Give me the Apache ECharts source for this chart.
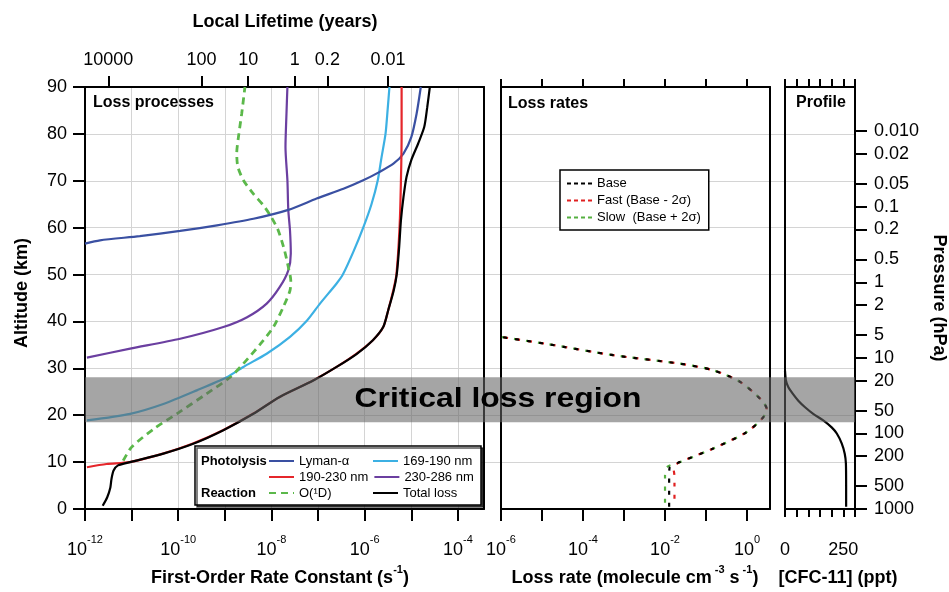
<!DOCTYPE html>
<html><head><meta charset="utf-8">
<script src="https://cdn.jsdelivr.net/npm/echarts@6/dist/echarts.min.js"></script>
<style>html,body{margin:0;padding:0;background:#fff}#c{width:949px;height:592px}</style>
</head><body><div id="c"></div>
<script>
// ---------------- DATA ----------------
// Left panel: first-order rate constants (s^-1) vs altitude (km)
const lymanAlt = [56.6, 57.3, 58.2, 59.3, 60.5, 61.9, 63.8, 66.2, 68.3, 70.1, 71.9, 73.7, 75.8, 79.3, 84.3, 90.0];
const lymanK   = [1.0e-12, 2.1e-12, 1.5e-11, 1.1e-10, 6.8e-10, 4.1e-9, 2.3e-8, 9.3e-8, 3.5e-7, 9.3e-7, 2.1e-6, 4.2e-6, 6.8e-6, 1.0e-5, 1.3e-5, 1.6e-5];

const band190Alt = [8.9, 9.6, 10.0, 11.8, 13.9, 16.8, 20.3, 23.9, 27.4, 30.3, 33.1, 36.0, 38.8, 42.4, 46.6, 50.0, 60.0, 70.0, 80.0, 90.0];
const band190K   = [1.1e-12, 2.9e-12, 9.1e-12, 4.7e-11, 2.0e-10, 9.1e-10, 4.0e-9, 1.5e-8, 7.8e-8, 2.5e-7, 6.6e-7, 1.5e-6, 2.5e-6, 3.2e-6, 4.1e-6, 4.8e-6, 5.6e-6, 6.0e-6, 6.2e-6, 6.2e-6];

const band169Alt = [18.9, 20.3, 22.4, 25.3, 28.1, 30.3, 33.1, 36.7, 40.2, 43.8, 48.1, 50.0, 55.0, 60.0, 65.0, 70.0, 75.0, 80.0, 85.0, 90.0];
const band169K   = [1.1e-12, 9.3e-12, 4.8e-11, 2.5e-10, 1.1e-9, 2.5e-9, 7.9e-9, 2.5e-8, 5.8e-8, 1.1e-7, 2.5e-7, 3.4e-7, 5.8e-7, 9.3e-7, 1.4e-6, 1.9e-6, 2.3e-6, 2.8e-6, 3.1e-6, 3.4e-6];

const band230Alt = [32.3, 34.2, 36.3, 38.8, 40.9, 43.8, 47.3, 50.9, 54.5, 59.4, 63.7, 70.1, 77.2, 84.3, 90.0];
const band230K   = [1.1e-12, 9.3e-12, 1.1e-10, 9.3e-10, 3.0e-9, 7.9e-9, 1.5e-8, 2.3e-8, 2.6e-8, 2.5e-8, 2.3e-8, 2.2e-8, 2.0e-8, 2.1e-8, 2.2e-8];

const o1dAlt = [10.3, 13.2, 17.1, 20.3, 24.6, 28.1, 31.0, 35.2, 38.8, 43.1, 46.6, 48.7, 51.6, 55.2, 59.4, 62.2, 64.7, 67.2, 70.1, 73.0, 75.9, 80.0, 84.3, 90.0];
const o1dK   = [6.6e-12, 1.0e-11, 3.0e-11, 9.3e-11, 4.1e-10, 1.3e-9, 2.5e-9, 5.8e-9, 1.1e-8, 1.8e-8, 2.5e-8, 2.6e-8, 2.3e-8, 1.9e-8, 1.4e-8, 1.0e-8, 6.8e-9, 4.1e-9, 2.5e-9, 1.9e-9, 1.8e-9, 2.0e-9, 2.3e-9, 2.7e-9];

const totalAlt = [0.7, 2.5, 4.6, 6.4, 8.2, 9.3, 10.0, 11.8, 13.9, 16.8, 20.3, 23.9, 27.4, 30.3, 33.1, 36.0, 38.8, 42.4, 46.6, 50.2, 55.9, 61.6, 66.5, 70.8, 74.4, 77.9, 81.5, 85.7, 90.0];
const totalK   = [2.4e-12, 3.0e-12, 3.5e-12, 3.7e-12, 4.1e-12, 5.1e-12, 9.3e-12, 4.8e-11, 2.1e-10, 9.3e-10, 4.1e-9, 1.5e-8, 7.9e-8, 2.5e-7, 6.8e-7, 1.5e-6, 2.5e-6, 3.2e-6, 4.2e-6, 4.9e-6, 5.5e-6, 6.0e-6, 6.8e-6, 7.9e-6, 1.0e-5, 1.4e-5, 1.9e-5, 2.2e-5, 2.5e-5];

// Middle panel: loss rate (molecule cm^-3 s^-1) vs altitude (km)
const lossAlt  = [0.5, 3.0, 5.0, 7.0, 8.9, 10.0, 12.9, 16.4, 19.6, 21.4, 23.5, 27.1, 29.6, 31.0, 32.8, 35.2, 36.7];
const lossBase = [1.26e-2, 1.26e-2, 1.26e-2, 1.26e-2, 1.3e-2, 2.3e-2, 0.15, 0.98, 2.5, 3.0, 2.1, 0.68, 0.15, 2.3e-2, 5.5e-4, 1.3e-5, 1.0e-6];
const lossFast = [1.7e-2, 1.7e-2, 1.7e-2, 1.7e-2, 1.6e-2, 2.3e-2, 0.15, 0.98, 2.5, 3.0, 2.1, 0.68, 0.15, 2.3e-2, 5.5e-4, 1.3e-5, 1.0e-6];
const lossSlow = [1.0e-2, 1.0e-2, 1.0e-2, 1.0e-2, 1.1e-2, 2.3e-2, 0.15, 0.98, 2.5, 3.0, 2.1, 0.68, 0.15, 2.3e-2, 5.5e-4, 1.3e-5, 1.0e-6];

// Right panel: CFC-11 profile (ppt) vs altitude (km)
const cfcAlt = [0.5, 5.0, 9.7, 11.8, 14.0, 16.1, 17.4, 18.9, 20.3, 21.7, 23.1, 24.6, 26.0, 27.4, 29.5];
const cfcPpt = [262, 262, 261, 256, 243, 222, 200, 164, 121, 86, 57, 33, 14, 4, 0];

// Shaded "critical loss region" (km)
const criticalRegion = [18.5, 28.1];

// Tick labels
const rateTickExp  = [-12, -11, -10, -9, -8, -7, -6, -5, -4];
const rateLabelExp = [-12, -10, -8, -6, -4];
const lossTickExp  = [-6, -5, -4, -3, -2, -1, 0];
const lossLabelExp = [-6, -4, -2, 0];
const cfcTicks  = [0, 50, 100, 150, 200, 250, 300];
const cfcLabels = [0, 250];
const lifetimeLabels = ['10000', '100', '10', '1', '0.2', '0.01'];
const pressureLabels = ['1000', '500', '200', '100', '50', '20', '10', '5', '2', '1', '0.5', '0.2', '0.1', '0.05', '0.02', '0.010'];

// ---------------- axis transforms ----------------
const SEC_PER_YEAR = 3.156e7;
const SCALE_H = 7.0; // km, for pressure axis
const lifetimePos = lifetimeLabels.map(t => -Math.log10(parseFloat(t) * SEC_PER_YEAR));
const pressureAlt = pressureLabels.map(p => SCALE_H * Math.log(1000 / parseFloat(p)));

function nearestLabel(positions, labels, v) {
  let best = 0;
  for (let i = 1; i < positions.length; i++) {
    if (Math.abs(positions[i] - v) < Math.abs(positions[best] - v)) best = i;
  }
  return labels[best];
}

const FONT = 'Liberation Sans, Arial, sans-serif';
const BLACK = '#000';
const axisLine = { show: true, onZero: false, lineStyle: { color: BLACK, width: 2 } };
const noTick = { show: false };
const noLabel = { show: false };
const noSplit = { show: false };
const tickStyle = { color: BLACK, width: 2 };
const expRich = {
  b: { fontSize: 18, lineHeight: 32, color: BLACK, fontFamily: FONT },
  s: { fontSize: 11, lineHeight: 12, verticalAlign: 'top', color: BLACK, fontFamily: FONT }
};
const expFmt = v => '{b|10}{s|' + Math.round(v) + '}';

const toPairs = (xs, alts, tf) => xs.map((x, i) => [tf ? tf(x) : x, alts[i]]);
const lg = v => Math.log10(v);

function lineSeries(name, xs, alts, color, xi, yi, extra) {
  return Object.assign({
    name, type: 'line', xAxisIndex: xi, yAxisIndex: yi,
    data: toPairs(xs, alts, xi === 4 ? null : lg),
    symbol: 'none', smooth: 0.25, silent: true,
    lineStyle: { color, width: 2.2 }, itemStyle: { color }
  }, extra || {});
}

const gridCommon = { top: 87, height: 422, containLabel: false, outerBoundsMode: 'none' };
const hiddenSymbol = { color: 'rgba(0,0,0,0)', borderColor: 'rgba(0,0,0,0)', borderWidth: 0, opacity: 0 };

const legendCommon = {
  orient: 'horizontal', left: 263, padding: 5, itemWidth: 25, itemHeight: 12, itemGap: 5,
  selectedMode: false, z: 5, itemStyle: hiddenSymbol,
  textStyle: { fontSize: 13, color: BLACK, width: 68, lineHeight: 16, fontFamily: FONT }
};

const option = {
  animation: false,
  backgroundColor: '#fff',
  textStyle: { fontFamily: FONT },
  grid: [
    Object.assign({ left: 85, width: 399 }, gridCommon),
    Object.assign({ left: 501, width: 269 }, gridCommon),
    Object.assign({ left: 785, width: 70 }, gridCommon),
    Object.assign({ left: 85, width: 770 }, gridCommon)
  ],
  xAxis: [
    { gridIndex: 0, type: 'value', position: 'bottom', min: -12, max: -3.44,
      axisLine, axisTick: { show: true, customValues: rateTickExp, length: 12, lineStyle: tickStyle },
      axisLabel: { customValues: rateLabelExp, margin: 25, formatter: expFmt, rich: expRich, color: BLACK },
      splitLine: { show: true, lineStyle: { color: '#d4d4d4', width: 1 } } },
    { gridIndex: 0, type: 'value', position: 'top', min: -12, max: -3.44,
      axisLine, axisTick: { show: true, customValues: lifetimePos, length: 11, lineStyle: tickStyle },
      axisLabel: { customValues: lifetimePos, margin: 18, fontSize: 18, color: BLACK,
        formatter: v => nearestLabel(lifetimePos, lifetimeLabels, v) },
      splitLine: noSplit },
    { gridIndex: 1, type: 'value', position: 'bottom', min: -6, max: 0.56,
      axisLine, axisTick: { show: true, customValues: lossTickExp, length: 12, lineStyle: tickStyle },
      axisLabel: { customValues: lossLabelExp, margin: 25, formatter: expFmt, rich: expRich, color: BLACK },
      splitLine: noSplit },
    { gridIndex: 1, type: 'value', position: 'top', min: -6, max: 0.56,
      axisLine, axisTick: { show: true, customValues: lossTickExp, length: 8, lineStyle: tickStyle },
      axisLabel: noLabel, splitLine: noSplit },
    { gridIndex: 2, type: 'value', position: 'bottom', min: 0, max: 300,
      axisLine, axisTick: { show: true, customValues: cfcTicks, length: 8, lineStyle: tickStyle },
      axisLabel: { customValues: cfcLabels, margin: 25, formatter: v => '{b|' + v + '}', rich: expRich, color: BLACK },
      splitLine: noSplit },
    { gridIndex: 2, type: 'value', position: 'top', min: 0, max: 300,
      axisLine, axisTick: { show: true, customValues: cfcTicks, length: 8, lineStyle: tickStyle },
      axisLabel: noLabel, splitLine: noSplit },
    { gridIndex: 3, type: 'value', min: 0, max: 1, show: false }
  ],
  yAxis: [
    { gridIndex: 0, type: 'value', position: 'left', min: 0, max: 90, interval: 10,
      axisLine, axisTick: { show: true, length: 12, lineStyle: tickStyle },
      axisLabel: { fontSize: 18, margin: 18, color: BLACK }, splitLine: noSplit },
    { gridIndex: 0, type: 'value', position: 'right', min: 0, max: 90,
      axisLine, axisTick: noTick, axisLabel: noLabel, splitLine: noSplit },
    { gridIndex: 1, type: 'value', position: 'left', min: 0, max: 90,
      axisLine, axisTick: noTick, axisLabel: noLabel, splitLine: noSplit },
    { gridIndex: 1, type: 'value', position: 'right', min: 0, max: 90,
      axisLine, axisTick: noTick, axisLabel: noLabel, splitLine: noSplit },
    { gridIndex: 2, type: 'value', position: 'left', min: 0, max: 90,
      axisLine, axisTick: noTick, axisLabel: noLabel, splitLine: noSplit },
    { gridIndex: 2, type: 'value', position: 'right', min: 0, max: 90,
      axisLine, axisTick: { show: true, customValues: pressureAlt, length: 12, lineStyle: tickStyle },
      axisLabel: { customValues: pressureAlt, margin: 19, fontSize: 18, color: BLACK,
        formatter: v => nearestLabel(pressureAlt, pressureLabels, v) },
      splitLine: noSplit },
    { gridIndex: 3, type: 'value', min: 0, max: 90, interval: 10,
      axisLine: { show: false }, axisTick: noTick, axisLabel: noLabel,
      splitLine: { show: true, showMinLine: false, showMaxLine: false, lineStyle: { color: '#d4d4d4', width: 1 } } }
  ],
  legend: [
    Object.assign({}, legendCommon, { top: 448, data: ['Lyman-α', '169-190 nm'] }),
    Object.assign({}, legendCommon, { top: 464, data: ['190-230 nm', '230-286 nm'] }),
    Object.assign({}, legendCommon, { top: 480, data: ['O(¹D)', 'Total loss'] }),
    { orient: 'vertical', left: 560, top: 170, padding: [7, 8, 6, 6], itemWidth: 25, itemHeight: 10, itemGap: 4,
      selectedMode: false, z: 5, backgroundColor: '#fff', borderColor: BLACK, borderWidth: 1.5,
      itemStyle: hiddenSymbol,
      lineStyle: { type: [4, 3], dashOffset: 0 },
      textStyle: { fontSize: 13, lineHeight: 13, color: BLACK, fontFamily: FONT },
      data: ['Base', 'Fast (Base - 2σ)', 'Slow  (Base + 2σ)'] }
  ],
  series: [
    lineSeries('169-190 nm', band169K, band169Alt, '#3cb0e3', 0, 0),
    lineSeries('230-286 nm', band230K, band230Alt, '#6b3fa0', 0, 0),
    lineSeries('O(¹D)', o1dK, o1dAlt, '#5bb84a', 0, 0, { lineStyle: { color: '#5bb84a', width: 2.8, type: [7, 5] } }),
    lineSeries('Lyman-α', lymanK, lymanAlt, '#3a50a2', 0, 0),
    lineSeries('190-230 nm', band190K, band190Alt, '#e5262b', 0, 0),
    lineSeries('Total loss', totalK, totalAlt, '#000000', 0, 0),

    lineSeries('Slow  (Base + 2σ)', lossSlow, lossAlt, '#55b040', 2, 2, { lineStyle: { color: '#55b040', width: 2.2, type: [4, 8], dashOffset: 8 } }),
    lineSeries('Fast (Base - 2σ)', lossFast, lossAlt, '#e02020', 2, 2, { lineStyle: { color: '#e02020', width: 2.2, type: [4, 8], dashOffset: 4 } }),
    lineSeries('Base', lossBase, lossAlt, '#000000', 2, 2, { lineStyle: { color: '#000000', width: 2.2, type: [4, 8], dashOffset: 0 } }),

    lineSeries('[CFC-11]', cfcPpt, cfcAlt, '#000000', 4, 4),

    { name: 'Critical loss region', type: 'custom', xAxisIndex: 6, yAxisIndex: 6, z: 10, silent: true,
      data: [criticalRegion],
      renderItem: function (params, api) {
        const p0 = api.coord([0, api.value(1)]);
        const p1 = api.coord([1, api.value(0)]);
        return { type: 'rect', shape: { x: p0[0], y: p0[1], width: p1[0] - p0[0], height: p1[1] - p0[1] },
                 style: { fill: 'rgba(100,100,100,0.58)' } };
      } }
  ],
  graphic: [
    { type: 'rect', z: 3, shape: { x: 195, y: 446, width: 286, height: 59 },
      style: { fill: '#fff', stroke: BLACK, lineWidth: 1.5, shadowColor: 'rgba(0,0,0,0.65)', shadowOffsetX: 2, shadowOffsetY: 2, shadowBlur: 0 } },
    { type: 'text', z: 6, x: 201, y: 461, style: { text: 'Photolysis', fontSize: 13, fontWeight: 'bold', fontFamily: FONT, fill: BLACK, align: 'left', verticalAlign: 'middle' } },
    { type: 'text', z: 6, x: 201, y: 493, style: { text: 'Reaction', fontSize: 13, fontWeight: 'bold', fontFamily: FONT, fill: BLACK, align: 'left', verticalAlign: 'middle' } },

    { type: 'text', z: 6, x: 93, y: 103, style: { text: 'Loss processes', fontSize: 16, fontWeight: 'bold', fontFamily: FONT, fill: BLACK, align: 'left', verticalAlign: 'middle' } },
    { type: 'text', z: 6, x: 508, y: 104, style: { text: 'Loss rates', fontSize: 16, fontWeight: 'bold', fontFamily: FONT, fill: BLACK, align: 'left', verticalAlign: 'middle' } },
    { type: 'text', z: 6, x: 796, y: 103, style: { text: 'Profile', fontSize: 16, fontWeight: 'bold', fontFamily: FONT, fill: BLACK, align: 'left', verticalAlign: 'middle' } },

    { type: 'text', z: 20, x: 498, y: 400, scaleX: 1.18,
      style: { text: 'Critical loss region', fontSize: 27, fontWeight: 'bold', fontFamily: FONT, fill: BLACK, align: 'center', verticalAlign: 'middle' } },

    { type: 'text', z: 6, x: 285, y: 22, style: { text: 'Local Lifetime (years)', fontSize: 18, fontWeight: 'bold', fontFamily: FONT, fill: BLACK, align: 'center', verticalAlign: 'middle' } },
    { type: 'text', z: 6, x: 22, y: 293, rotation: Math.PI / 2, style: { text: 'Altitude (km)', fontSize: 18, fontWeight: 'bold', fontFamily: FONT, fill: BLACK, align: 'center', verticalAlign: 'middle' } },
    { type: 'text', z: 6, x: 939, y: 298, rotation: -Math.PI / 2, style: { text: 'Pressure (hPa)', fontSize: 18, fontWeight: 'bold', fontFamily: FONT, fill: BLACK, align: 'center', verticalAlign: 'middle' } },

    { type: 'text', z: 6, x: 280, y: 578, style: {
        text: '{t|First-Order Rate Constant (s}{s|-1}{t|)}', align: 'center', verticalAlign: 'middle',
        rich: { t: { fontSize: 18, fontWeight: 'bold', fontFamily: FONT, fill: BLACK, lineHeight: 28 },
                s: { fontSize: 11, fontWeight: 'bold', fontFamily: FONT, fill: BLACK, lineHeight: 12, verticalAlign: 'top' } } } },
    { type: 'text', z: 6, x: 635, y: 578, style: {
        text: '{t|Loss rate (molecule cm}{s| -3}{t| s}{s| -1}{t|)}', align: 'center', verticalAlign: 'middle',
        rich: { t: { fontSize: 18, fontWeight: 'bold', fontFamily: FONT, fill: BLACK, lineHeight: 28 },
                s: { fontSize: 11, fontWeight: 'bold', fontFamily: FONT, fill: BLACK, lineHeight: 12, verticalAlign: 'top' } } } },
    { type: 'text', z: 6, x: 838, y: 578, style: { text: '[CFC-11] (ppt)', fontSize: 18, fontWeight: 'bold', fontFamily: FONT, fill: BLACK, align: 'center', verticalAlign: 'middle' } }
  ]
};

const chart = echarts.init(document.getElementById('c'), null, { renderer: 'canvas' });
chart.setOption(option);
</script>
</body></html>
